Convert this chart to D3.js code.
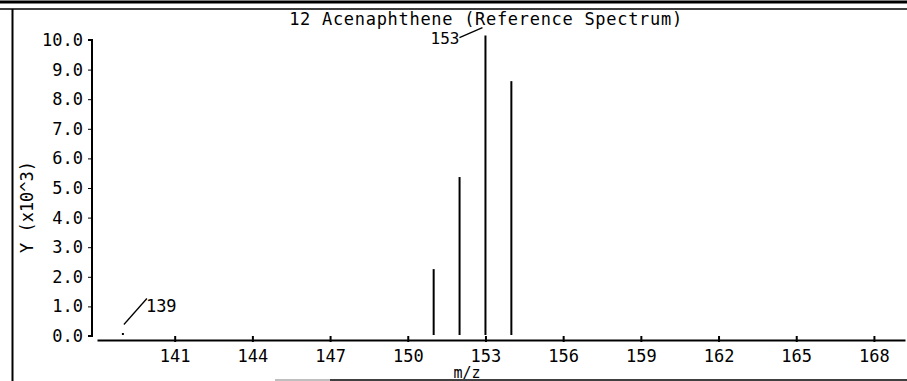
<!DOCTYPE html>
<html><head><meta charset="utf-8">
<script src="https://cdn.jsdelivr.net/npm/d3@7/dist/d3.min.js"></script>
<style>
body{margin:0;background:#fff;}
svg{display:block;}
text{font-family:"DejaVu Sans Mono",monospace;font-size:17px;fill:#000;}
</style></head><body>
<svg id="c" width="907" height="381"></svg>
<script>
const title = "12 Acenaphthene (Reference Spectrum)";
const xLabel = "m/z";
const yLabel = "Y (x10^3)";
const mz = [139, 151, 152, 153, 154];
const intensity = [0.05, 2.26, 5.37, 10.15, 8.61];
const labeledPeaks = [139, 153];
const xTicks = [141, 144, 147, 150, 153, 156, 159, 162, 165, 168];
const yTicks = [0, 1, 2, 3, 4, 5, 6, 7, 8, 9, 10];

const svg = d3.select("#c");
const x = d3.scaleLinear().domain([138, 169.2]).range([97, 905]);
const y = d3.scaleLinear().domain([0, 10]).range([336, 40]);

// frame
svg.append("line").attr("x1",0).attr("x2",907).attr("y1",2).attr("y2",2).attr("stroke","#000").attr("stroke-width",3);
svg.append("line").attr("x1",0).attr("x2",907).attr("y1",9).attr("y2",9).attr("stroke","#000").attr("stroke-width",1.5);
svg.append("line").attr("x1",12.5).attr("x2",12.5).attr("y1",9).attr("y2",381).attr("stroke","#000").attr("stroke-width",2);
svg.append("line").attr("x1",275).attr("x2",330).attr("y1",380).attr("y2",380).attr("stroke","#aaa").attr("stroke-width",1.5);
svg.append("line").attr("x1",330).attr("x2",907).attr("y1",380).attr("y2",380).attr("stroke","#000").attr("stroke-width",1.5);

// title
svg.append("text").attr("x",486).attr("y",25).attr("text-anchor","middle")
  .style("letter-spacing","0.7px").text(title);

// y axis
const yAxis = d3.axisLeft(y).tickValues(yTicks).tickFormat(d3.format(".1f")).tickSize(4).tickPadding(5);
const gy = svg.append("g").attr("transform","translate(92,0)").call(yAxis);
gy.select(".domain").attr("stroke-width",2).attr("d","M-4,40H0V336H-4");
gy.selectAll("text").style("font-family","DejaVu Sans Mono").style("font-size","17px").attr("fill","#000");

// x axis
const xAxis = d3.axisBottom(x).tickValues(xTicks).tickFormat(d3.format("d")).tickSizeInner(-4).tickSizeOuter(0).tickPadding(10);
const gx = svg.append("g").attr("transform","translate(0,340)").call(xAxis);
gx.select(".domain").attr("stroke-width",2);
gx.selectAll(".tick line").attr("stroke-width",2).attr("y1",2);
gx.selectAll("text").style("font-family","DejaVu Sans Mono").style("font-size","17px").attr("fill","#000");

// axis titles
svg.append("text").attr("transform","translate(33,207) rotate(-90)").attr("text-anchor","middle").text(yLabel);
svg.append("text").attr("x",467).attr("y",378).attr("text-anchor","middle").style("font-size","15px").text(xLabel);

// peaks
const data = mz.map((m,i)=>({m, v:intensity[i]}));
svg.selectAll(".bar").data(data).enter().append("line")
  .attr("x1",d=>x(d.m)).attr("x2",d=>x(d.m))
  .attr("y1",335).attr("y2",d=>Math.min(y(d.v),333))
  .attr("stroke","#000").attr("stroke-width",2);

// peak annotations
data.filter(d=>labeledPeaks.includes(d.m)).forEach(d=>{
  const px = x(d.m), py = y(d.v);
  if (d.m === 153) {
    svg.append("line").attr("x1",px-26).attr("y1",py+2).attr("x2",px-3).attr("y2",py-8).attr("stroke","#000").attr("stroke-width",1.3);
    svg.append("text").attr("x",px-26).attr("y",py+8).attr("text-anchor","end").style("font-size","16px").text(d.m);
  } else {
    svg.append("line").attr("x1",px+1).attr("y1",py-10).attr("x2",px+24).attr("y2",py-36).attr("stroke","#000").attr("stroke-width",1.3);
    svg.append("text").attr("x",px+23).attr("y",py-23).text(d.m);
  }
});
</script>
</body></html>
